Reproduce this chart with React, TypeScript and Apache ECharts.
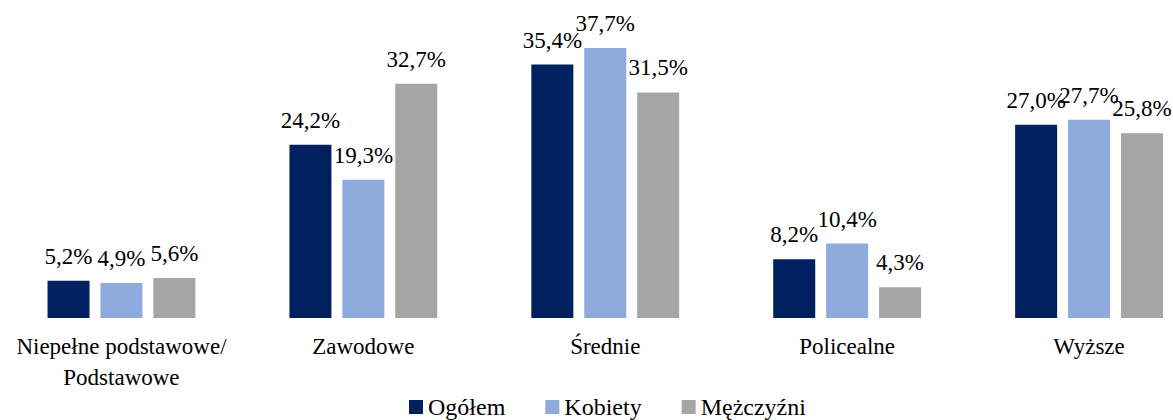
import React, { useEffect, useRef } from "react";
import * as echarts from "echarts";

const categories = ["Niepełne podstawowe/\nPodstawowe", "Zawodowe", "Średnie", "Policealne", "Wyższe"];
const ogolem = [5.2, 24.2, 35.4, 8.2, 27.0];
const kobiety = [4.9, 19.3, 37.7, 10.4, 27.7];
const mezczyzni = [5.6, 32.7, 31.5, 4.3, 25.8];
const seriesNames = ["Ogółem", "Kobiety", "Mężczyźni"];
const colors = ["#002060", "#8FAADC", "#A5A5A5"];

const FONT = "Liberation Serif";

export default function App() {
  const ref = useRef<HTMLDivElement>(null);
  useEffect(() => {
    if (!ref.current) return;
    const chart = echarts.init(ref.current, undefined, { renderer: "svg" });
    const fmt = (p: any) => p.value.toFixed(1).replace(".", ",") + "%";
    const mk = (name: string, data: number[], color: string) => ({
      name,
      type: "bar",
      data,
      barWidth: 42,
      barGap: "26%",
      itemStyle: { color },
      label: {
        show: true,
        position: "top",
        distance: 13,
        formatter: fmt,
        fontFamily: FONT,
        fontSize: 23,
        color: "#000",
      },
    });
    chart.setOption({
      animation: false,
      textStyle: { fontFamily: FONT },
      grid: { left: 0.5, right: 0, top: 31.6, bottom: 102, containLabel: false, outerBoundsMode: "none" },
      legend: {
        top: 395,
        left: 409,
        padding: 0,
        itemWidth: 14,
        itemHeight: 14,
        itemGap: 40,
        icon: "rect",
        textStyle: { fontFamily: FONT, fontSize: 24, lineHeight: 24, color: "#000" },
        data: seriesNames,
      },
      xAxis: {
        type: "category",
        data: categories,
        axisLine: { show: false },
        axisTick: { show: false },
        axisLabel: { fontFamily: FONT, fontSize: 23, color: "#000", margin: 13, lineHeight: 31, interval: 0 },
      },
      yAxis: { type: "value", min: 0, max: 40, show: false, splitLine: { show: false } },
      series: [
        mk(seriesNames[0], ogolem, colors[0]),
        mk(seriesNames[1], kobiety, colors[1]),
        mk(seriesNames[2], mezczyzni, colors[2]),
      ],
    });
    return () => chart.dispose();
  }, []);
  return (
    <div style={{ position: "absolute", left: 0, top: 0, width: 1173, height: 420, overflow: "hidden", background: "#fff" }}>
      <div ref={ref} style={{ width: 1210, height: 420 }} />
    </div>
  );
}
